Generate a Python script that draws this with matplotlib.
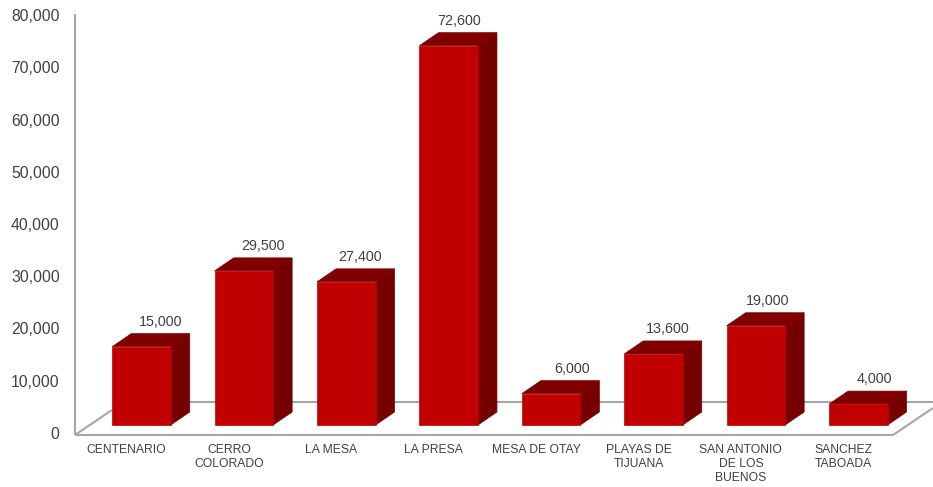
import matplotlib
matplotlib.use("Agg")
import matplotlib.pyplot as plt
from matplotlib.patches import Polygon

plt.rcParams["font.family"] = ["Liberation Sans", "DejaVu Sans"]

categories = ["CENTENARIO", "CERRO\nCOLORADO", "LA MESA", "LA PRESA", "MESA DE OTAY",
              "PLAYAS DE\nTIJUANA", "SAN ANTONIO\nDE LOS\nBUENOS", "SANCHEZ\nTABOADA"]
values = [15000, 29500, 27400, 72600, 6000, 13600, 19000, 4000]
yticks = [0, 10000, 20000, 30000, 40000, 50000, 60000, 70000, 80000]

# how far each value label sits right of its bar centre, in pixels
labelShift = [19, 19, 14, 10, 21, 14, 12, 16]

W, H = 933, 487
# pixels per category / per unit
pxX = 102.4
pxY = 418 / 80000

def dx(px):
    return px / pxX

def dy(px):
    return px / pxY

fig = plt.figure(figsize=(W / 100, H / 100), dpi=100)
ax = fig.add_axes([75 / W, (H - 433) / H, (W - 75) / W, 418 / H])

x0 = (75 - 141.5) / pxX
x1 = x0 + (W - 75) / pxX
ax.set_xlim(x0, x1)
ax.set_ylim(0, 80000)

for side in ["top", "right", "bottom", "left"]:
    ax.spines[side].set_visible(False)

grey = "#a6a6a6"
floorY = -dy(2)
backY = dy(31)
lineKw = dict(color=grey, lw=1.5, clip_on=False, zorder=1, solid_capstyle="butt")
ax.plot([x0, x0], [floorY, dy(419)], **lineKw)
ax.plot([x0, x0 + dx(818)], [floorY, floorY], **lineKw)
ax.plot([x0, x0 + dx(37)], [floorY, dy(23)], **lineKw)
ax.plot([x0 + dx(37), x1], [backY, backY], **lineKw)
ax.plot([x0 + dx(818), x1], [floorY, dy(25)], **lineKw)

barW = dx(58.5)
depthX = dx(19)
depthY = dy(13)
base = dy(8)

for i, val in enumerate(values):
    left = i - barW / 2
    right = i + barW / 2
    top = base + val
    ax.add_patch(Polygon([(right, base), (right + depthX, base + depthY),
                          (right + depthX, top + depthY), (right, top)],
                         fc="#760000", ec="#760000", lw=0.5, zorder=3, clip_on=False))
    ax.add_patch(Polygon([(left, top), (right, top),
                          (right + depthX, top + depthY), (left + depthX, top + depthY)],
                         fc="#800000", ec="#800000", lw=0.5, zorder=3, clip_on=False))
    ax.add_patch(Polygon([(left, base), (right, base), (right, top), (left, top)],
                         fc="#c00000", ec="#c00000", lw=0.5, zorder=4, clip_on=False))
    ax.text(i + dx(labelShift[i]), top + dy(25), f"{val:,}", ha="center", va="center",
            fontsize=10.3, color="#404040", clip_on=False)

ax.set_yticks(yticks)
ax.set_yticklabels([f"{t:,}" for t in yticks], fontsize=11.3, color="#404040")
ax.tick_params(axis="y", length=0, pad=11)

ax.set_xticks([i - dx(15) for i in range(len(categories))])
ax.set_xticklabels(categories, fontsize=8.7, color="#404040", linespacing=1.2)
ax.tick_params(axis="x", length=0, pad=8)

fig.savefig("out.png", dpi=100, facecolor="white")
